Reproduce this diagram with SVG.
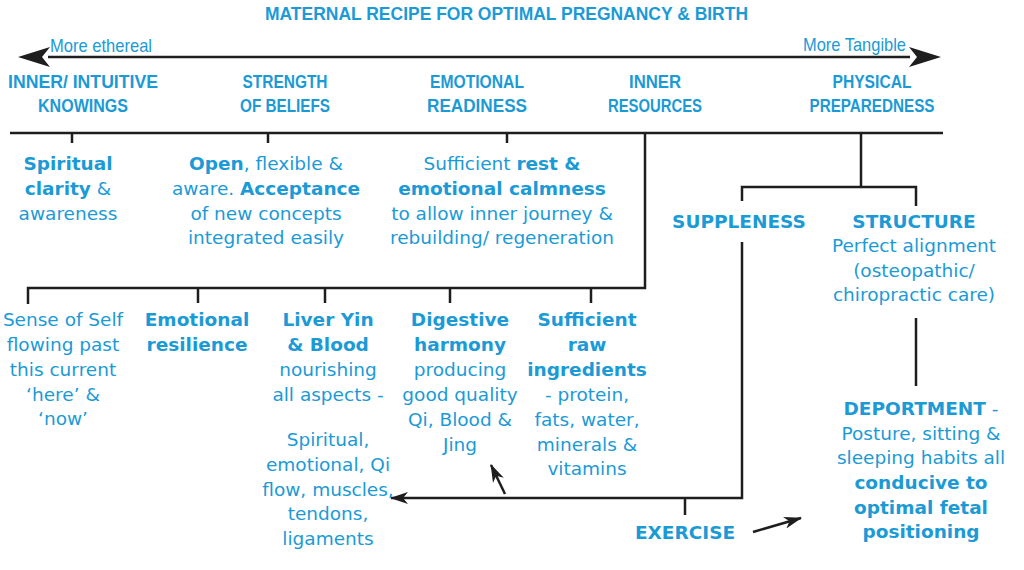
<svg xmlns="http://www.w3.org/2000/svg" width="1024" height="570" viewBox="0 0 1024 570">
<style>
text{font-family:"Liberation Sans",Arial,sans-serif;fill:#1b9ad6;}
.t{font-size:19px;font-weight:bold;}
.h{font-size:18px;font-weight:bold;text-anchor:middle;}
.s{font-size:19px;}
.b{font-family:"DejaVu Sans",Verdana,sans-serif;font-size:18.5px;text-anchor:middle;}
.bb{font-weight:bold;}
.ln{stroke:#1e1e1e;stroke-width:2.5;fill:none;}
</style>
<defs>
<marker id="ah" viewBox="0 0 18 12" refX="17" refY="6" markerWidth="18" markerHeight="12" markerUnits="userSpaceOnUse" orient="auto">
<path d="M0,0 L18,6 L0,12 L5,6 z" fill="#1e1e1e"/>
</marker>
</defs>
<rect width="1024" height="570" fill="#ffffff"/>
<g id="title">
<text class="t" x="265" y="20" textLength="483" lengthAdjust="spacingAndGlyphs">MATERNAL RECIPE FOR OPTIMAL PREGNANCY &amp; BIRTH</text>
</g>
<g id="connectors">
<line class="ln" x1="48" y1="57" x2="910" y2="57"/>
<path d="M18,57 L50,47 L42,57 L50,67 z" fill="#1e1e1e"/>
<path d="M941,57 L909,47 L917,57 L909,67 z" fill="#1e1e1e"/>
<line class="ln" x1="10" y1="133" x2="943" y2="133"/>
<line class="ln" x1="72" y1="133" x2="72" y2="143"/>
<line class="ln" x1="268" y1="133" x2="268" y2="143"/>
<line class="ln" x1="507" y1="133" x2="507" y2="143"/>
<polyline class="ln" points="645,133 645,288 28,288 28,304"/>
<line class="ln" x1="198" y1="288" x2="198" y2="303"/>
<line class="ln" x1="325" y1="288" x2="325" y2="303"/>
<line class="ln" x1="450" y1="288" x2="450" y2="303"/>
<line class="ln" x1="591" y1="288" x2="591" y2="303"/>
<line class="ln" x1="861" y1="133" x2="861" y2="187"/>
<polyline class="ln" points="742,201 742,187 916,187 916,206"/>
<polyline class="ln" points="742,242 742,498 391,498" marker-end="url(#ah)"/>
<line class="ln" x1="685" y1="498" x2="685" y2="515"/>
<line class="ln" x1="916" y1="318" x2="916" y2="386"/>
<line class="ln" x1="505" y1="494" x2="491" y2="465" marker-end="url(#ah)" stroke-width="2"/>
<line class="ln" x1="753" y1="532" x2="801" y2="518" marker-end="url(#ah)" stroke-width="2"/>
</g>
<g id="axis-labels">
<text class="s" x="50" y="52" textLength="102" lengthAdjust="spacingAndGlyphs">More ethereal</text>
<text class="s" x="803" y="51" textLength="103" lengthAdjust="spacingAndGlyphs">More Tangible</text>
</g>
<g id="n-inner-intuitive">
<text class="h" x="83" y="88" textLength="150" lengthAdjust="spacingAndGlyphs">INNER/ INTUITIVE</text>
<text class="h" x="83" y="112" textLength="90" lengthAdjust="spacingAndGlyphs">KNOWINGS</text>
</g>
<g id="n-strength">
<text class="h" x="285" y="88" textLength="85" lengthAdjust="spacingAndGlyphs">STRENGTH</text>
<text class="h" x="285" y="112" textLength="90" lengthAdjust="spacingAndGlyphs">OF BELIEFS</text>
</g>
<g id="n-emotional">
<text class="h" x="477" y="88" textLength="94" lengthAdjust="spacingAndGlyphs">EMOTIONAL</text>
<text class="h" x="477" y="112" textLength="100" lengthAdjust="spacingAndGlyphs">READINESS</text>
</g>
<g id="n-inner-resources">
<text class="h" x="655" y="88" textLength="52" lengthAdjust="spacingAndGlyphs">INNER</text>
<text class="h" x="655" y="112" textLength="94" lengthAdjust="spacingAndGlyphs">RESOURCES</text>
</g>
<g id="n-physical">
<text class="h" x="872" y="88" textLength="79" lengthAdjust="spacingAndGlyphs">PHYSICAL</text>
<text class="h" x="872" y="112" textLength="125" lengthAdjust="spacingAndGlyphs">PREPAREDNESS</text>
</g>
<g id="n-spiritual-clarity">
<text class="b" y="170"><tspan x="68" class="bb">Spiritual</tspan><tspan x="68" dy="25"><tspan class="bb">clarity</tspan> &amp;</tspan><tspan x="68" dy="25">awareness</tspan></text>
</g>
<g id="n-open">
<text class="b" y="170"><tspan x="266"><tspan class="bb">Open</tspan>, flexible &amp;</tspan><tspan x="266" dy="25">aware. <tspan class="bb">Acceptance</tspan></tspan><tspan x="266" dy="25">of new concepts</tspan><tspan x="266" dy="24">integrated easily</tspan></text>
</g>
<g id="n-rest">
<text class="b" y="170"><tspan x="502">Sufficient <tspan class="bb">rest &amp;</tspan></tspan><tspan x="502" dy="25" class="bb">emotional calmness</tspan><tspan x="502" dy="25">to allow inner journey &amp;</tspan><tspan x="502" dy="24">rebuilding/ regeneration</tspan></text>
</g>
<g id="n-suppleness">
<text class="b bb" x="739" y="228">SUPPLENESS</text>
</g>
<g id="n-structure">
<text class="b" y="228"><tspan x="914" class="bb">STRUCTURE</tspan><tspan x="914" dy="24">Perfect alignment</tspan><tspan x="914" dy="25">(osteopathic/</tspan><tspan x="914" dy="24">chiropractic care)</tspan></text>
</g>
<g id="n-sense-of-self">
<text class="b" y="326"><tspan x="63">Sense of Self</tspan><tspan x="63" dy="25">flowing past</tspan><tspan x="63" dy="25">this current</tspan><tspan x="63" dy="25">‘here’ &amp;</tspan><tspan x="63" dy="24">‘now’</tspan></text>
</g>
<g id="n-emotional-resilience">
<text class="b bb" y="326"><tspan x="197">Emotional</tspan><tspan x="197" dy="25">resilience</tspan></text>
</g>
<g id="n-liver">
<text class="b" y="326"><tspan x="328" class="bb">Liver Yin</tspan><tspan x="328" dy="25" class="bb">&amp; Blood</tspan><tspan x="328" dy="25">nourishing</tspan><tspan x="328" dy="25">all aspects -</tspan><tspan x="328" dy="45">Spiritual,</tspan><tspan x="328" dy="25">emotional, Qi</tspan><tspan x="328" dy="25">flow, muscles,</tspan><tspan x="328" dy="24">tendons,</tspan><tspan x="328" dy="25">ligaments</tspan></text>
</g>
<g id="n-digestive">
<text class="b" y="326"><tspan x="460" class="bb">Digestive</tspan><tspan x="460" dy="25" class="bb">harmony</tspan><tspan x="460" dy="25">producing</tspan><tspan x="460" dy="25">good quality</tspan><tspan x="460" dy="25">Qi, Blood &amp;</tspan><tspan x="460" dy="25">Jing</tspan></text>
</g>
<g id="n-raw">
<text class="b" y="326"><tspan x="587" class="bb">Sufficient</tspan><tspan x="587" dy="25" class="bb">raw</tspan><tspan x="587" dy="25" class="bb">ingredients</tspan><tspan x="587" dy="25">- protein,</tspan><tspan x="587" dy="25">fats, water,</tspan><tspan x="587" dy="25">minerals &amp;</tspan><tspan x="587" dy="24">vitamins</tspan></text>
</g>
<g id="n-deportment">
<text class="b" y="415"><tspan x="921"><tspan class="bb">DEPORTMENT</tspan> -</tspan><tspan x="921" dy="25">Posture, sitting &amp;</tspan><tspan x="921" dy="24">sleeping habits all</tspan><tspan x="921" dy="25" class="bb">conducive to</tspan><tspan x="921" dy="25" class="bb">optimal fetal</tspan><tspan x="921" dy="24" class="bb">positioning</tspan></text>
</g>
<g id="n-exercise">
<text class="b bb" x="685" y="539">EXERCISE</text>
</g>
</svg>
